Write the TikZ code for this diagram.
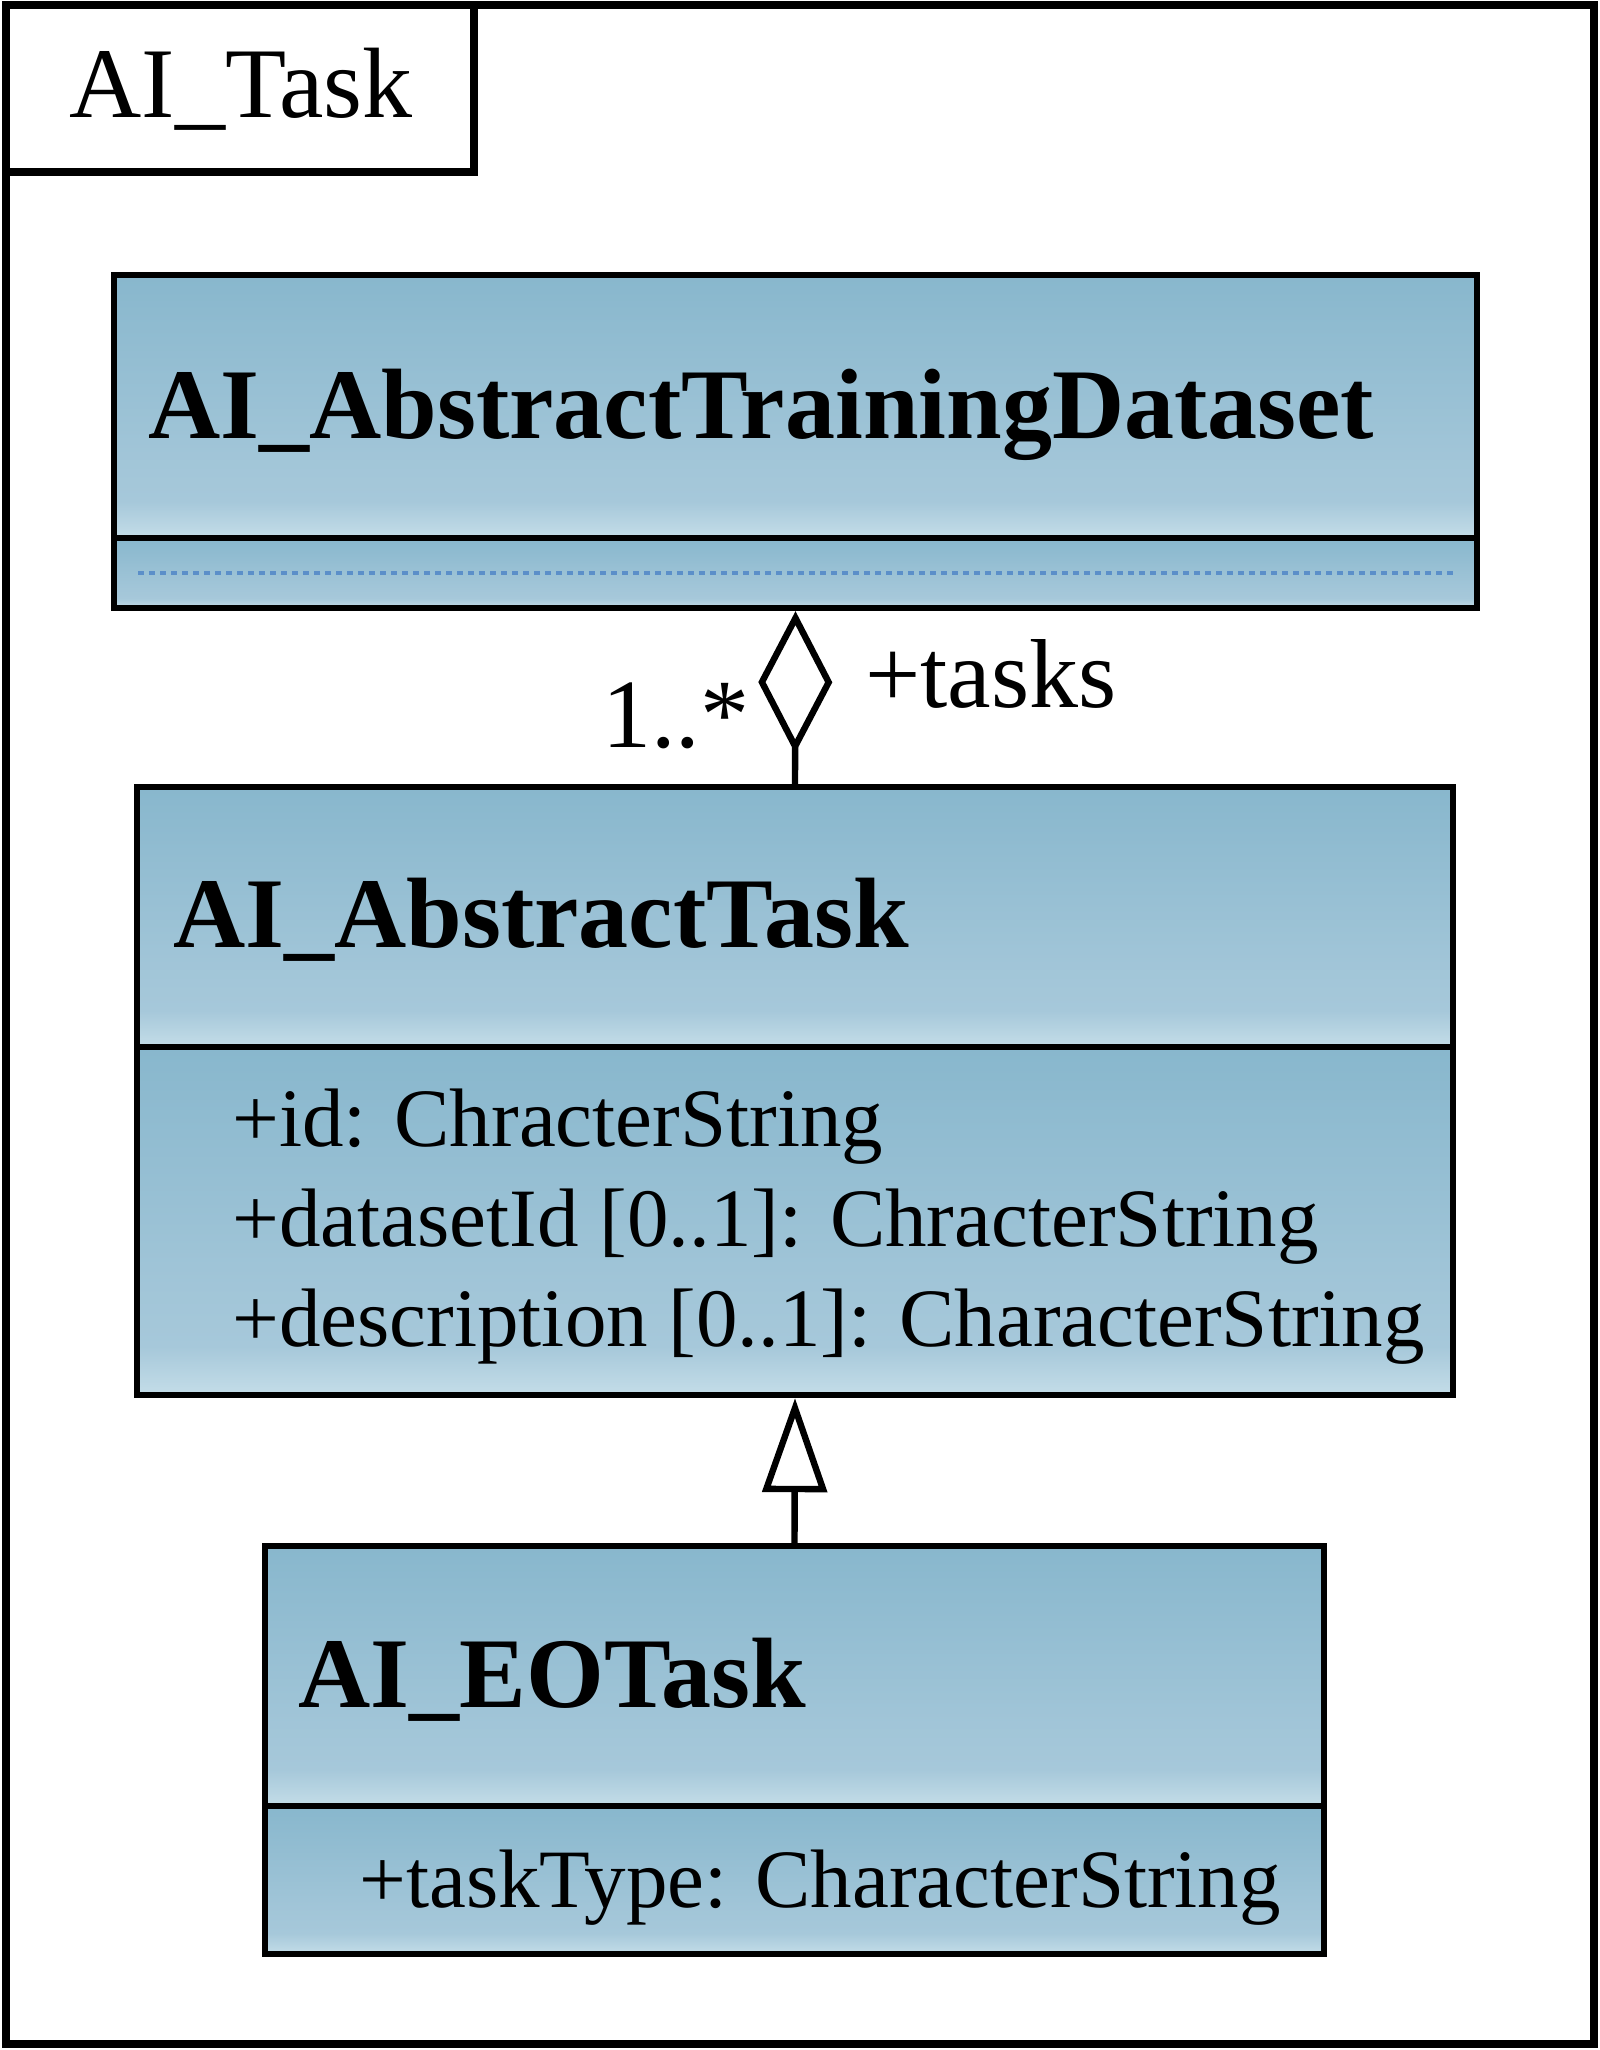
\documentclass[tikz,border=0pt]{standalone}
\usepackage{fontspec}
\setmainfont{Liberation Serif}
\usepackage{tikz}
\usetikzlibrary{arrows.meta}
\definecolor{clstop}{HTML}{88B7CD}
\definecolor{clsmid}{HTML}{A6C8DA}
\definecolor{clsbot}{HTML}{C4DDE8}
\definecolor{dotblue}{HTML}{5B8FC9}
\pgfdeclareverticalshading{clsgrad}{100bp}{color(0bp)=(clsbot); color(25bp)=(clsbot); color(32bp)=(clsmid); color(40bp)=(clsmid!85!clstop); color(75bp)=(clstop); color(100bp)=(clstop)}

\begin{document}
\begin{tikzpicture}[x=0.5pt,y=-0.5pt,inner sep=0pt]
    \tikzstyle{compart}=[rectangle,draw=black,line width=3.2pt,shading=clsgrad]
    \tikzstyle{clsname}=[anchor=base west,font=\fontsize{50}{60}\selectfont\bfseries]
    \tikzstyle{attr}=[anchor=base west,font=\fontsize{41.5}{50}\selectfont]
    \tikzstyle{role}=[anchor=base west,font=\fontsize{49}{58}\selectfont]
    \useasboundingbox (0,0) rectangle (1600,2050);

    % package frame and tab
    \node[draw,line width=3.9pt,minimum width=794pt,minimum height=1019.5pt] (pkg) at (800,1024.5) {};
    \node[draw,line width=3.9pt,fill=white,minimum width=234pt,minimum height=83.5pt] (pkgtab) at (240,88.5) {};
    \node[anchor=base] (pkgname) at (241,118) {\fontsize{50}{60}\selectfont AI\_Task};

    % AI_AbstractTrainingDataset
    \node[compart,minimum width=681.5pt,minimum height=131.5pt] (dshead) at (795.5,406.5) {};
    \node[compart,minimum width=681.5pt,minimum height=35pt] (dsattr) at (795.5,573) {};
    \node[clsname] (dsname) at (148,438) {AI\_AbstractTrainingDataset};
    \draw[dotblue,line width=2pt,dash pattern=on 3pt off 2.5pt] (138,573) -- (1454,573);

    % AI_AbstractTask
    \node[compart,minimum width=658pt,minimum height=130pt] (thead) at (795,917) {};
    \node[compart,minimum width=658pt,minimum height=174pt] (tattr) at (795,1221) {};
    \node[clsname] (tname) at (173,947) {AI\_AbstractTask};
    \foreach \txt [count=\k] in {{+id: ChracterString},{+datasetId [0..1]: ChracterString},{+description [0..1]: CharacterString}} {
        \node[attr] (ta\k) at (232,1046+100*\k) {\txt};
    };

    % AI_EOTask
    \node[compart,minimum width=529.5pt,minimum height=130pt] (eohead) at (794.5,1676) {};
    \node[compart,minimum width=529.5pt,minimum height=74pt] (eoattr) at (794.5,1880) {};
    \node[clsname] (eoname) at (298,1707) {AI\_EOTask};
    \node[attr] (eoa1) at (359,1907) {+taskType: CharacterString};

    % aggregation
    \draw[line width=3.2pt,-{Diamond[open,length=71pt,width=37pt,line join=miter]}] (thead.north) -- (dsattr.south);
    \node[role] (mult) at (602,747) {1..*};
    \node[role] (rolename) at (865,707) {+tasks};

    % generalization
    \draw[line width=3.2pt,-{Triangle[open,length=47pt,width=32pt,line join=miter]}] (eohead.north) -- (tattr.south);
\end{tikzpicture}
\end{document}
